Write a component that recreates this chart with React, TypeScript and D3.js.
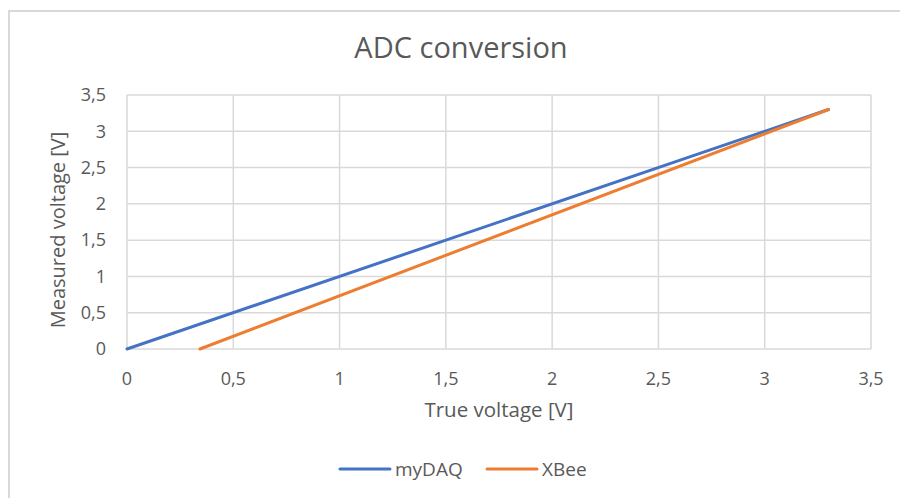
import React, { useEffect, useRef } from "react";
import * as d3 from "d3";

const trueVoltage = [0, 3.3];
const myDAQ = [0, 3.3];
const xbeeTrue = [0.343, 3.3];
const xbeeMeasured = [0, 3.3];
const xTicks = [0, 0.5, 1, 1.5, 2, 2.5, 3, 3.5];
const yTicks = [0, 0.5, 1, 1.5, 2, 2.5, 3, 3.5];
const seriesNames = ["myDAQ", "XBee"];
const seriesColors = ["#4472C4", "#ED7D31"];

const W = 900;
const H = 498;
const FONT = "'Open Sans', sans-serif";
const TEXT = "#595959";
const GRID = "#D9D9D9";

const fmt = (v: number) => String(v).replace(".", ",");

const App = () => {
  const ref = useRef<SVGSVGElement>(null);

  useEffect(() => {
    const svg = d3.select(ref.current);
    svg.selectAll("*").remove();

    const left = 127;
    const right = 871;
    const top = 95;
    const bottom = 349;

    const x = d3.scaleLinear().domain([0, 3.5]).range([left, right]);
    const y = d3.scaleLinear().domain([0, 3.5]).range([bottom, top]);

    // chart frame
    svg
      .append("rect")
      .attr("x", 9)
      .attr("y", 11)
      .attr("width", W + 20)
      .attr("height", H + 20)
      .attr("fill", "#fff")
      .attr("stroke", GRID)
      .attr("stroke-width", 2);

    svg
      .append("text")
      .attr("x", 461)
      .attr("y", 58)
      .attr("text-anchor", "middle")
      .attr("font-family", FONT)
      .attr("font-size", 29)
      .attr("fill", TEXT)
      .text("ADC conversion");

    // gridlines
    const grid = svg.append("g").attr("stroke", GRID).attr("stroke-width", 1.5);
    grid
      .selectAll(".vx")
      .data(xTicks)
      .enter()
      .append("line")
      .attr("x1", (d) => x(d))
      .attr("x2", (d) => x(d))
      .attr("y1", y(3.5))
      .attr("y2", y(0));
    grid
      .selectAll(".hy")
      .data(yTicks)
      .enter()
      .append("line")
      .attr("x1", x(0))
      .attr("x2", x(3.5))
      .attr("y1", (d) => y(d))
      .attr("y2", (d) => y(d));

    // tick labels
    svg
      .append("g")
      .selectAll("text")
      .data(xTicks)
      .enter()
      .append("text")
      .attr("x", (d) => x(d))
      .attr("y", 385)
      .attr("text-anchor", "middle")
      .attr("font-family", FONT)
      .attr("font-size", 18)
      .attr("fill", TEXT)
      .text(fmt);

    svg
      .append("g")
      .selectAll("text")
      .data(yTicks)
      .enter()
      .append("text")
      .attr("x", 106)
      .attr("y", (d) => y(d))
      .attr("dy", "0.35em")
      .attr("text-anchor", "end")
      .attr("font-family", FONT)
      .attr("font-size", 18)
      .attr("fill", TEXT)
      .text(fmt);

    // axis titles
    svg
      .append("text")
      .attr("x", x(1.75))
      .attr("y", 417)
      .attr("text-anchor", "middle")
      .attr("font-family", FONT)
      .attr("font-size", 20.5)
      .attr("fill", TEXT)
      .text("True voltage [V]");

    svg
      .append("text")
      .attr("transform", `translate(65,${y(1.75) + 8}) rotate(-90)`)
      .attr("text-anchor", "middle")
      .attr("font-family", FONT)
      .attr("font-size", 20)
      .attr("fill", TEXT)
      .text("Measured voltage [V]");

    // series
    const line = d3
      .line<[number, number]>()
      .x((d) => x(d[0]))
      .y((d) => y(d[1]));

    const series: [number, number][][] = [
      trueVoltage.map((v, i) => [v, myDAQ[i]]),
      xbeeTrue.map((v, i) => [v, xbeeMeasured[i]]),
    ];

    svg
      .append("g")
      .selectAll("path")
      .data(series)
      .enter()
      .append("path")
      .attr("d", line)
      .attr("fill", "none")
      .attr("stroke", (_, i) => seriesColors[i])
      .attr("stroke-width", 3)
      .attr("stroke-linecap", "round");

    // legend
    const legX = [340, 487];
    const leg = svg
      .append("g")
      .selectAll("g")
      .data(seriesNames)
      .enter()
      .append("g")
      .attr("transform", (_, i) => `translate(${legX[i]},469)`);
    leg
      .append("line")
      .attr("x1", 0)
      .attr("x2", 50)
      .attr("stroke", (_, i) => seriesColors[i])
      .attr("stroke-width", 3)
      .attr("stroke-linecap", "round");
    leg
      .append("text")
      .attr("x", 55)
      .attr("dy", "0.35em")
      .attr("font-family", FONT)
      .attr("font-size", 19)
      .attr("fill", TEXT)
      .text((d) => d);
  }, []);

  return (
    <svg
      ref={ref}
      width={W}
      height={H}
      style={{ position: "absolute", left: 0, top: 0 }}
    ></svg>
  );
};

export default App;
